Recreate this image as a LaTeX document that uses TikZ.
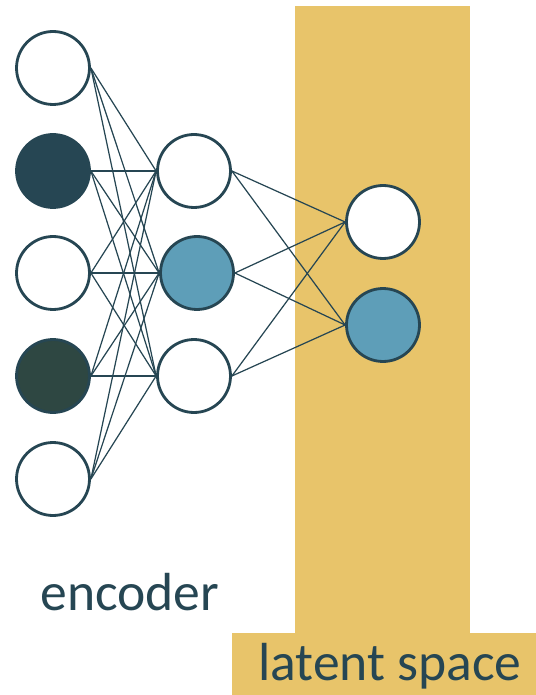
\documentclass[tikz,border=0pt]{standalone}
\usepackage{fontspec}
\setmainfont{Carlito}
\definecolor{ink}{HTML}{264653}
\definecolor{inkgreen}{HTML}{2E4742}
\definecolor{midblue}{HTML}{5E9EB8}
\definecolor{gold}{HTML}{E8C46A}
\begin{document}
\begin{tikzpicture}[x=0.02cm, y=-0.02cm,
	neuron/.style={circle, draw=ink, line width=1.6pt, fill=white, minimum size=1.46cm, inner sep=0},
	link/.style={draw=ink, line width=0.7pt},
	lbl/.style={text=ink, font=\fontsize{30.5}{33}\selectfont, inner sep=0, anchor=base west}]
		\useasboundingbox (0,0) rectangle (536,695);
		\fill[gold] (295,6) rectangle (470,633);
		\fill[gold] (232,633) rectangle (536,695);
		\node[neuron] (i1) at (53,68) {};
		\node[neuron, fill=ink] (i2) at (53,171) {};
		\node[neuron] (i3) at (53,273) {};
		\node[neuron, fill=inkgreen] (i4) at (53,376) {};
		\node[neuron] (i5) at (53,479) {};
		\node[neuron] (h1) at (194,171) {};
		\node[neuron, fill=midblue] (h2) at (197,273) {};
		\node[neuron] (h3) at (194,376) {};
		\node[neuron] (z1) at (383,222) {};
		\node[neuron, fill=midblue] (z2) at (383,325) {};
		\foreach \i in {1,...,5}
			\foreach \h in {1,2,3}
				\draw[link] (i\i.east) -- (h\h.west);
		\foreach \h in {1,2,3}
			\foreach \z in {1,2}
				\draw[link] (h\h.east) -- (z\z.west);
		\node[lbl] (enc) at (40,610) {encoder};
		\node[lbl] (lat) at (258,680) {latent space};
		\end{tikzpicture}
\end{document}
